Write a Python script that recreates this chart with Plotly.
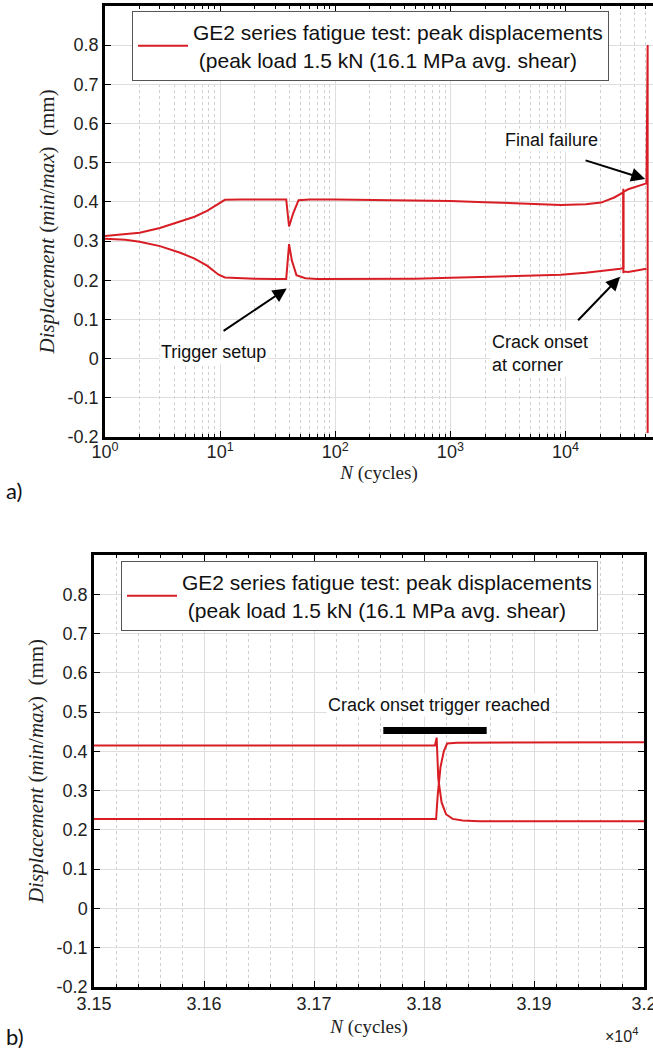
import math
import plotly.graph_objects as go

# ---------------- data: panel a) (log N) ----------------
# trace A: starts as the max (upper) curve, swaps to lower at crack onset
top_a_N = [1, 1.5, 2, 3, 4.5, 6, 7.7, 9.7, 11, 15, 20, 30, 37.5, 39.7, 43, 48, 60, 100, 250, 500,
           1000, 2000, 4000, 9100, 15000, 20400, 26500, 30000, 31800, 31810, 31811, 31830, 35000,
           40000, 45000, 50500]
top_a = [0.313, 0.317, 0.321, 0.333, 0.349, 0.362, 0.377, 0.396, 0.405, 0.406, 0.406, 0.406, 0.406,
         0.337, 0.370, 0.404, 0.406, 0.406, 0.405, 0.404, 0.402, 0.399, 0.396, 0.392, 0.394, 0.398,
         0.411, 0.420, 0.424, 0.433, 0.218, 0.222, 0.221, 0.224, 0.226, 0.229]
# trace B: starts as the min (lower) curve, swaps to upper at crack onset, ends with final failure
top_b_N = [1, 1.5, 2, 3, 4.5, 6, 7.7, 9.7, 11, 15, 20, 30, 37.5, 39.7, 42, 46, 55, 70, 100, 250, 500,
           1000, 2000, 4000, 9100, 15000, 20400, 26500, 30000, 31800, 31812, 35000, 40000, 45000,
           50500, 51700, 51700]
top_b = [0.306, 0.303, 0.298, 0.287, 0.270, 0.255, 0.237, 0.214, 0.207, 0.205, 0.204, 0.203, 0.203,
         0.292, 0.250, 0.213, 0.205, 0.203, 0.203, 0.203, 0.204, 0.206, 0.208, 0.211, 0.214, 0.219,
         0.223, 0.227, 0.229, 0.231, 0.425, 0.432, 0.437, 0.441, 0.447, 0.800, -0.190]

# ---------------- data: panel b) (zoom around crack onset) ----------------
bot_a_N = [31500, 31810, 31811.5, 31813, 31816, 31820, 31826, 31835, 31850, 31900, 32000]
bot_a = [0.415, 0.415, 0.435, 0.330, 0.270, 0.240, 0.228, 0.224, 0.222, 0.222, 0.222]
bot_b_N = [31500, 31811, 31812.5, 31815, 31818, 31821, 31830, 31900, 32000]
bot_b = [0.228, 0.228, 0.290, 0.360, 0.400, 0.420, 0.422, 0.423, 0.423]
bar_N = [31763, 31857]
bar_y = [0.453, 0.453]

# ---------------- ticks ----------------
top_xticks = [1, 10, 100, 1000, 10000]
top_xticktext = ["10<sup>0</sup>", "10<sup>1</sup>", "10<sup>2</sup>", "10<sup>3</sup>", "10<sup>4</sup>"]
bot_xticks = [31500, 31600, 31700, 31800, 31900, 32000]
bot_xticktext = ["3.15", "3.16", "3.17", "3.18", "3.19", "3.2"]
yticks = [-0.2, -0.1, 0, 0.1, 0.2, 0.3, 0.4, 0.5, 0.6, 0.7, 0.8]
yticktext = ["-0.2", "-0.1", "0", "0.1", "0.2", "0.3", "0.4", "0.5", "0.6", "0.7", "0.8"]
minor_log = [m * 10 ** d for d in range(0, 5) for m in range(2, 10)]

legend_text = "GE2 series fatigue test: peak displacements<br>\u00a0(peak load 1.5 kN (16.1 MPa avg. shear)"
ytitle = "<i>Displacement</i> (<i>min</i>/<i>max</i>)\u00a0\u00a0(mm)"

RED = "#d81e24"
W, H = 653, 1050
SANS = "Liberation Sans"
SERIF = "Liberation Serif"

fig = go.Figure()
fig.add_trace(go.Scatter(x=top_a_N, y=top_a, mode="lines", line=dict(color=RED, width=2),
                         name=legend_text, legend="legend", xaxis="x", yaxis="y"))
fig.add_trace(go.Scatter(x=top_b_N, y=top_b, mode="lines", line=dict(color=RED, width=2),
                         showlegend=False, xaxis="x", yaxis="y"))
fig.add_trace(go.Scatter(x=bot_a_N, y=bot_a, mode="lines", line=dict(color=RED, width=2),
                         name=legend_text, legend="legend2", xaxis="x2", yaxis="y2"))
fig.add_trace(go.Scatter(x=bot_b_N, y=bot_b, mode="lines", line=dict(color=RED, width=2),
                         showlegend=False, xaxis="x2", yaxis="y2"))
fig.add_trace(go.Scatter(x=bar_N, y=bar_y, mode="lines", line=dict(color="black", width=7),
                         showlegend=False, xaxis="x2", yaxis="y2"))

common_ax = dict(showline=True, linecolor="black", linewidth=2.5, ticks="inside", ticklen=6,
                 tickcolor="black", tickwidth=1, zeroline=False, showgrid=True,
                 gridcolor="#dedede", gridwidth=1, automargin=False, ticklabeloverflow="allow",
                 tickfont=dict(family=SANS, size=18, color="#222"))

fig.update_layout(
    width=W, height=H, margin=dict(l=0, r=0, t=0, b=0, autoexpand=False),
    paper_bgcolor="white", plot_bgcolor="white",
    xaxis=dict(common_ax, type="log", domain=[105 / W, 1.0], range=[0, 4.76], anchor="y",
               tickmode="array", tickvals=top_xticks, ticktext=top_xticktext, mirror="ticks",
               ticklabelstandoff=-3,
               minor=dict(tickmode="array", tickvals=minor_log, showgrid=True, gridcolor="#cfcfcf",
                          griddash="dot", ticks="inside", ticklen=3, tickcolor="black"),
               title=dict(text="<i>N</i> (cycles)", font=dict(family=SERIF, size=19, color="#222"),
                          standoff=4)),
    yaxis=dict(common_ax, domain=[1 - 437 / H, 1 - 5.8 / H], range=[-0.2, 0.9], anchor="x",
               tickmode="array", tickvals=yticks, ticktext=yticktext, mirror=False,
               title=dict(text=ytitle, font=dict(family=SERIF, size=21, color="#222"), standoff=8)),
    xaxis2=dict(common_ax, domain=[94 / W, 644 / W], range=[31500, 32000], anchor="y2",
                tickmode="array", tickvals=bot_xticks, ticktext=bot_xticktext, mirror="ticks",
                ticklabelstandoff=-1,
                minor=dict(dtick=20, showgrid=True, gridcolor="#cfcfcf", griddash="dot",
                           ticks="inside", ticklen=3, tickcolor="black"),
                title=dict(text="<i>N</i> (cycles)", font=dict(family=SERIF, size=19, color="#222"),
                           standoff=7)),
    yaxis2=dict(common_ax, domain=[1 - 987 / H, 1 - 555 / H], range=[-0.2, 0.9], anchor="x2",
                tickmode="array", tickvals=yticks, ticktext=yticktext, mirror="ticks",
                title=dict(text=ytitle, font=dict(family=SERIF, size=21, color="#222"), standoff=8)),
    legend=dict(x=132 / W, y=1 - 11 / H, xanchor="left", yanchor="top", bgcolor="white",
                bordercolor="#555", borderwidth=1, itemwidth=50,
                font=dict(family=SANS, size=21, color="#111")),
    legend2=dict(x=121 / W, y=1 - 561 / H, xanchor="left", yanchor="top", bgcolor="white",
                 bordercolor="#555", borderwidth=1, itemwidth=50,
                 font=dict(family=SANS, size=21, color="#111")),
)

ann_font = dict(family=SANS, size=18, color="#111")
arrow = dict(showarrow=True, arrowhead=2, arrowsize=1.4, arrowwidth=2, arrowcolor="black", text="")
L = math.log10
annotations = [
    dict(xref="x", yref="y", x=L(8.7), y=0.017, text="Trigger setup", showarrow=False,
         bgcolor="white", font=ann_font),
    dict(arrow, xref="x", yref="y", axref="x", ayref="y", x=L(37.9), y=0.179, ax=L(10.4), ay=0.068),
    dict(xref="x", yref="y", x=L(2213), y=0.012, xanchor="left", align="left",
         text="Crack onset<br>at corner", showarrow=False, bgcolor="white", font=ann_font),
    dict(arrow, xref="x", yref="y", axref="x", ayref="y", x=L(29800), y=0.209, ax=L(12500), ay=0.094),
    dict(xref="x", yref="y", x=L(7570), y=0.558, text="Final failure", showarrow=False,
         bgcolor="white", font=ann_font),
    dict(arrow, xref="x", yref="y", axref="x", ayref="y", x=L(49200), y=0.458, ax=L(14500), ay=0.507),
    dict(xref="x2", yref="y2", x=31813.6, y=0.517, text="Crack onset trigger reached",
         showarrow=False, bgcolor="white", font=ann_font),
    dict(xref="paper", yref="paper", x=621 / W, y=1 - 1035 / H, xanchor="center", yanchor="middle",
         text="\u00d710<sup>4</sup>", showarrow=False, font=dict(family=SANS, size=16, color="#222")),
    dict(xref="paper", yref="paper", x=4 / W, y=1 - 490 / H, xanchor="left", yanchor="middle",
         text="a)", showarrow=False, font=dict(family="Lato", size=22, color="#111")),
    dict(xref="paper", yref="paper", x=4 / W, y=1 - 1036 / H, xanchor="left", yanchor="middle",
         text="b)", showarrow=False, font=dict(family="Lato", size=22, color="#111")),
]
fig.update_layout(annotations=annotations)

fig.write_html("out.html", config={"displayModeBar": False},
               post_script="document.body.style.margin='0px';")
